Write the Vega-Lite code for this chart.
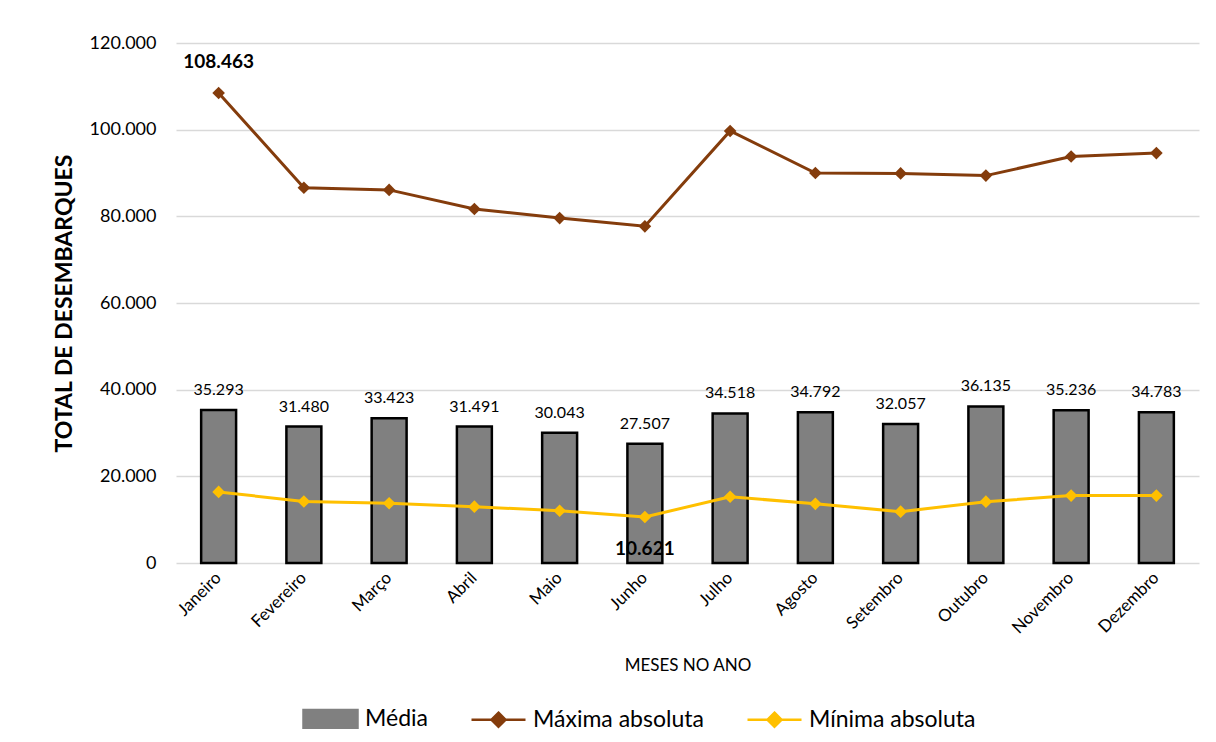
{
  "$schema": "https://vega.github.io/schema/vega-lite/v6.json",
  "width": 1023,
  "height": 520,
  "autosize": {"type": "none"},
  "padding": {"left": 176, "top": 43, "right": 17, "bottom": 179},
  "config": {
    "font": "Lato",
    "locale": {"number": {"decimal": ",", "thousands": ".", "grouping": [3], "currency": ["", ""]}},
    "view": {"stroke": null},
    "axis": {"labelColor": "#000000", "titleColor": "#000000", "labelFont": "Lato", "titleFont": "Lato"}
  },
  "data": {
    "values": [
      {"mes": "Janeiro", "serie": "Média", "valor": 35293},
      {"mes": "Fevereiro", "serie": "Média", "valor": 31480},
      {"mes": "Março", "serie": "Média", "valor": 33423},
      {"mes": "Abril", "serie": "Média", "valor": 31491},
      {"mes": "Maio", "serie": "Média", "valor": 30043},
      {"mes": "Junho", "serie": "Média", "valor": 27507},
      {"mes": "Julho", "serie": "Média", "valor": 34518},
      {"mes": "Agosto", "serie": "Média", "valor": 34792},
      {"mes": "Setembro", "serie": "Média", "valor": 32057},
      {"mes": "Outubro", "serie": "Média", "valor": 36135},
      {"mes": "Novembro", "serie": "Média", "valor": 35236},
      {"mes": "Dezembro", "serie": "Média", "valor": 34783},
      {"mes": "Janeiro", "serie": "Máxima absoluta", "valor": 108463},
      {"mes": "Fevereiro", "serie": "Máxima absoluta", "valor": 86600},
      {"mes": "Março", "serie": "Máxima absoluta", "valor": 86100},
      {"mes": "Abril", "serie": "Máxima absoluta", "valor": 81700},
      {"mes": "Maio", "serie": "Máxima absoluta", "valor": 79600},
      {"mes": "Junho", "serie": "Máxima absoluta", "valor": 77700},
      {"mes": "Julho", "serie": "Máxima absoluta", "valor": 99700},
      {"mes": "Agosto", "serie": "Máxima absoluta", "valor": 90000},
      {"mes": "Setembro", "serie": "Máxima absoluta", "valor": 89900},
      {"mes": "Outubro", "serie": "Máxima absoluta", "valor": 89400},
      {"mes": "Novembro", "serie": "Máxima absoluta", "valor": 93800},
      {"mes": "Dezembro", "serie": "Máxima absoluta", "valor": 94600},
      {"mes": "Janeiro", "serie": "Mínima absoluta", "valor": 16400},
      {"mes": "Fevereiro", "serie": "Mínima absoluta", "valor": 14200},
      {"mes": "Março", "serie": "Mínima absoluta", "valor": 13800},
      {"mes": "Abril", "serie": "Mínima absoluta", "valor": 13000},
      {"mes": "Maio", "serie": "Mínima absoluta", "valor": 12050},
      {"mes": "Junho", "serie": "Mínima absoluta", "valor": 10621},
      {"mes": "Julho", "serie": "Mínima absoluta", "valor": 15300},
      {"mes": "Agosto", "serie": "Mínima absoluta", "valor": 13650},
      {"mes": "Setembro", "serie": "Mínima absoluta", "valor": 11850},
      {"mes": "Outubro", "serie": "Mínima absoluta", "valor": 14150},
      {"mes": "Novembro", "serie": "Mínima absoluta", "valor": 15550},
      {"mes": "Dezembro", "serie": "Mínima absoluta", "valor": 15550}
    ]
  },
  "encoding": {
    "x": {
      "field": "mes", "type": "nominal",
      "sort": ["Janeiro", "Fevereiro", "Março", "Abril", "Maio", "Junho", "Julho", "Agosto", "Setembro", "Outubro", "Novembro", "Dezembro"],
      "scale": {"paddingInner": 0.59, "paddingOuter": 0.295},
      "axis": {
        "title": "MESES NO ANO", "titleFontSize": 17, "titleFontWeight": "normal", "titlePadding": 21,
        "labelAngle": -45, "labelAlign": "right", "labelBaseline": "middle", "labelFontSize": 17, "labelPadding": 12,
        "domain": false, "ticks": false, "grid": false
      }
    },
    "y": {
      "field": "valor", "type": "quantitative",
      "scale": {"domain": [0, 120000], "nice": false},
      "axis": {
        "title": "TOTAL DE DESEMBARQUES", "titleFontSize": 23, "titleFontWeight": "bold", "titlePadding": 13,
        "values": [0, 20000, 40000, 60000, 80000, 100000, 120000], "format": ",.0f",
        "labelFontSize": 18, "labelPadding": 20,
        "domain": false, "ticks": false, "grid": true, "gridColor": "#D9D9D9", "gridWidth": 1.5
      }
    },
    "color": {
      "field": "serie", "type": "nominal",
      "scale": {"domain": ["Média", "Máxima absoluta", "Mínima absoluta"], "range": ["#808080", "#843C0C", "#FFC000"]},
      "legend": {
        "title": null, "orient": "none", "direction": "horizontal", "legendX": 126, "legendY": 647,
        "labelFontSize": 23, "labelColor": "#000000", "labelOffset": 6, "columnPadding": 38, "labelLimit": 400,
        "symbolSize": 2916, "symbolStrokeWidth": 2.5,
        "encode": {
          "symbols": {
            "enter": {
              "stroke": {"signal": "datum.value === 'Média' ? '#000000' : (datum.value === 'Máxima absoluta' ? '#843C0C' : '#FFC000')"}
            },
            "update": {
              "shape": {"signal": "datum.value === 'Média' ? 'M-1,-0.33H1V0.33H-1Z' : 'M-1,0H1M0,-0.26L0.26,0L0,0.26L-0.26,0Z'"},
              "fill": {"signal": "datum.value === 'Média' ? '#808080' : (datum.value === 'Máxima absoluta' ? '#843C0C' : '#FFC000')"},
              "stroke": {"signal": "datum.value === 'Média' ? '#000000' : (datum.value === 'Máxima absoluta' ? '#843C0C' : '#FFC000')"},
              "strokeWidth": {"value": 2.5},
              "opacity": {"value": 1},
              "fillOpacity": {"value": 1},
              "strokeOpacity": {"value": 1}
            }
          }
        }
      }
    }
  },
  "layer": [
    {
      "transform": [{"filter": "datum.serie === 'Média'"}],
      "mark": {"type": "bar", "stroke": "#000000", "strokeWidth": 2.5}
    },
    {
      "transform": [{"filter": "datum.serie === 'Média'"}],
      "mark": {"type": "text", "baseline": "bottom", "dy": -12, "fontSize": 16, "color": "#000000"},
      "encoding": {"text": {"field": "valor", "type": "quantitative", "format": ",.0f"}, "color": {"value": "#000000"}}
    },
    {
      "transform": [{"filter": "datum.serie !== 'Média'"}],
      "mark": {"type": "line", "strokeWidth": 3},
      "encoding": {"detail": {"field": "serie"}}
    },
    {
      "transform": [{"filter": "datum.serie !== 'Média'"}],
      "mark": {"type": "point", "shape": "diamond", "filled": true, "size": 160, "opacity": 1}
    },
    {
      "transform": [{"filter": "datum.serie === 'Máxima absoluta' && datum.mes === 'Janeiro'"}],
      "mark": {"type": "text", "baseline": "middle", "dy": -31, "fontSize": 19, "fontWeight": "bold"},
      "encoding": {"text": {"field": "valor", "type": "quantitative", "format": ",.0f"}, "color": {"value": "#000000"}}
    },
    {
      "transform": [{"filter": "datum.serie === 'Mínima absoluta' && datum.mes === 'Junho'"}],
      "mark": {"type": "text", "baseline": "middle", "dy": 32, "fontSize": 19, "fontWeight": "bold"},
      "encoding": {"text": {"field": "valor", "type": "quantitative", "format": ",.0f"}, "color": {"value": "#000000"}}
    }
  ]
}
